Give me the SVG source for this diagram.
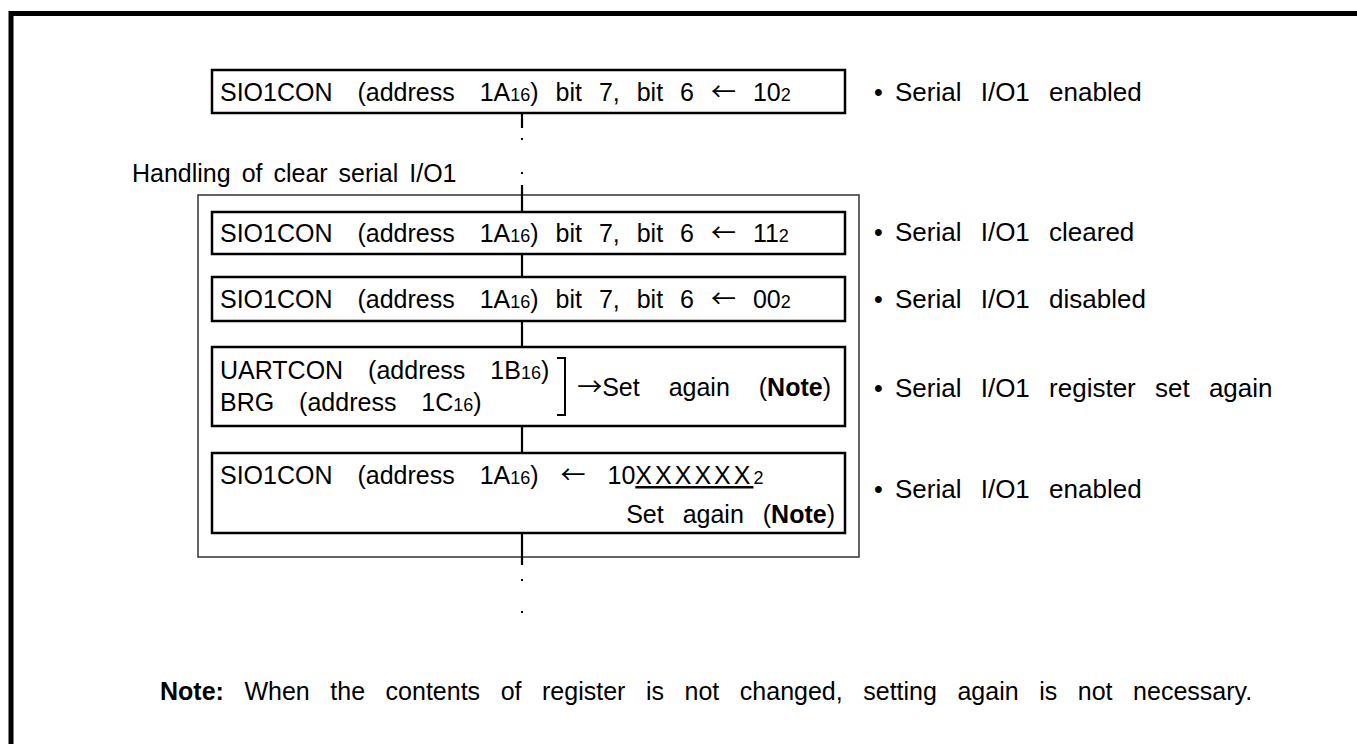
<svg xmlns="http://www.w3.org/2000/svg" width="1357" height="744" viewBox="0 0 1357 744">
<style>
text{font-family:"Liberation Sans",Arial,sans-serif;font-size:25px;fill:#000}
.w1{word-spacing:18px}
.w2{word-spacing:10px}
.bl{word-spacing:12px;font-size:26px}
.sub{font-size:18px}
.b{font-weight:bold}
.ar{font-family:"Noto Sans CJK JP","DejaVu Sans",sans-serif;font-size:25px}
.box{fill:#fff;stroke:#000;stroke-width:2.5}
.con{stroke:#000;stroke-width:2.2;fill:none}
.dot{fill:#000}
</style>
<rect width="1357" height="744" fill="#fff"/>
<rect id="frame" x="11" y="13.5" width="1400" height="800" fill="none" stroke="#000" stroke-width="5"/>
<g id="group-clear">
<rect x="198" y="195" width="661" height="362" fill="none" stroke="#333" stroke-width="1.5"/>
<text x="132" y="182" style="word-spacing:4px">Handling of clear serial I/O1</text>
</g>
<g id="connectors">
<line class="con" x1="522" y1="113" x2="522" y2="128"/>
<rect class="dot" x="521" y="138" width="2" height="2"/>
<rect class="dot" x="521" y="172" width="2" height="2"/>
<line class="con" x1="522" y1="185" x2="522" y2="212"/>
<line class="con" x1="522" y1="254" x2="522" y2="277"/>
<line class="con" x1="522" y1="321" x2="522" y2="347"/>
<line class="con" x1="522" y1="426" x2="522" y2="453"/>
<line class="con" x1="522" y1="533" x2="522" y2="565"/>
<rect class="dot" x="521" y="579" width="2" height="2"/>
<rect class="dot" x="521" y="611" width="2" height="2"/>
</g>
<g id="n1">
<rect class="box" x="212" y="70" width="633" height="43"/>
<text x="220" y="101"><tspan class="w1">SIO1CON (address 1A</tspan><tspan class="sub">16</tspan>)<tspan class="w2"> bit 7, bit 6 <tspan class="ar">←</tspan> 10</tspan><tspan class="sub">2</tspan></text>
<text x="874" y="101">•</text>
<text class="bl" x="895" y="101">Serial I/O1 enabled</text>
</g>
<g id="n2">
<rect class="box" x="212" y="212" width="633" height="42"/>
<text x="220" y="242"><tspan class="w1">SIO1CON (address 1A</tspan><tspan class="sub">16</tspan>)<tspan class="w2"> bit 7, bit 6 <tspan class="ar">←</tspan> 11</tspan><tspan class="sub">2</tspan></text>
<text x="874" y="241">•</text>
<text class="bl" x="895" y="241">Serial I/O1 cleared</text>
</g>
<g id="n3">
<rect class="box" x="212" y="277" width="633" height="44"/>
<text x="220" y="308"><tspan class="w1">SIO1CON (address 1A</tspan><tspan class="sub">16</tspan>)<tspan class="w2"> bit 7, bit 6 <tspan class="ar">←</tspan> 00</tspan><tspan class="sub">2</tspan></text>
<text x="874" y="308">•</text>
<text class="bl" x="895" y="308">Serial I/O1 disabled</text>
</g>
<g id="n4">
<rect class="box" x="212" y="347" width="633" height="79"/>
<text class="w1" x="220" y="379">UARTCON (address 1B<tspan class="sub">16</tspan>)</text>
<text class="w1" x="220" y="411">BRG (address 1C<tspan class="sub">16</tspan>)</text>
<path d="M557 358 H565 V415 H557" fill="none" stroke="#000" stroke-width="2"/>
<text x="831" y="396" text-anchor="end" style="word-spacing:22px"><tspan class="ar">→</tspan>Set again (<tspan class="b">Note</tspan>)</text>
<text x="874" y="397">•</text>
<text class="bl" x="895" y="397">Serial I/O1 register set again</text>
</g>
<g id="n5">
<rect class="box" x="212" y="453" width="633" height="80"/>
<text x="220" y="484"><tspan class="w1">SIO1CON (address 1A</tspan><tspan class="sub">16</tspan>)<tspan style="word-spacing:15px"> <tspan class="ar">←</tspan> 10</tspan><tspan text-decoration="underline" style="letter-spacing:3px">XXXXXX</tspan><tspan class="sub">2</tspan></text>
<text x="835" y="523" text-anchor="end" style="word-spacing:12px">Set again (<tspan class="b">Note</tspan>)</text>
<text x="874" y="498">•</text>
<text class="bl" x="895" y="498">Serial I/O1 enabled</text>
</g>
<g id="note">
<text x="160" y="700" style="word-spacing:13.6px"><tspan class="b">Note:</tspan> When the contents of register is not changed, setting again is not necessary.</text>
</g>
</svg>
